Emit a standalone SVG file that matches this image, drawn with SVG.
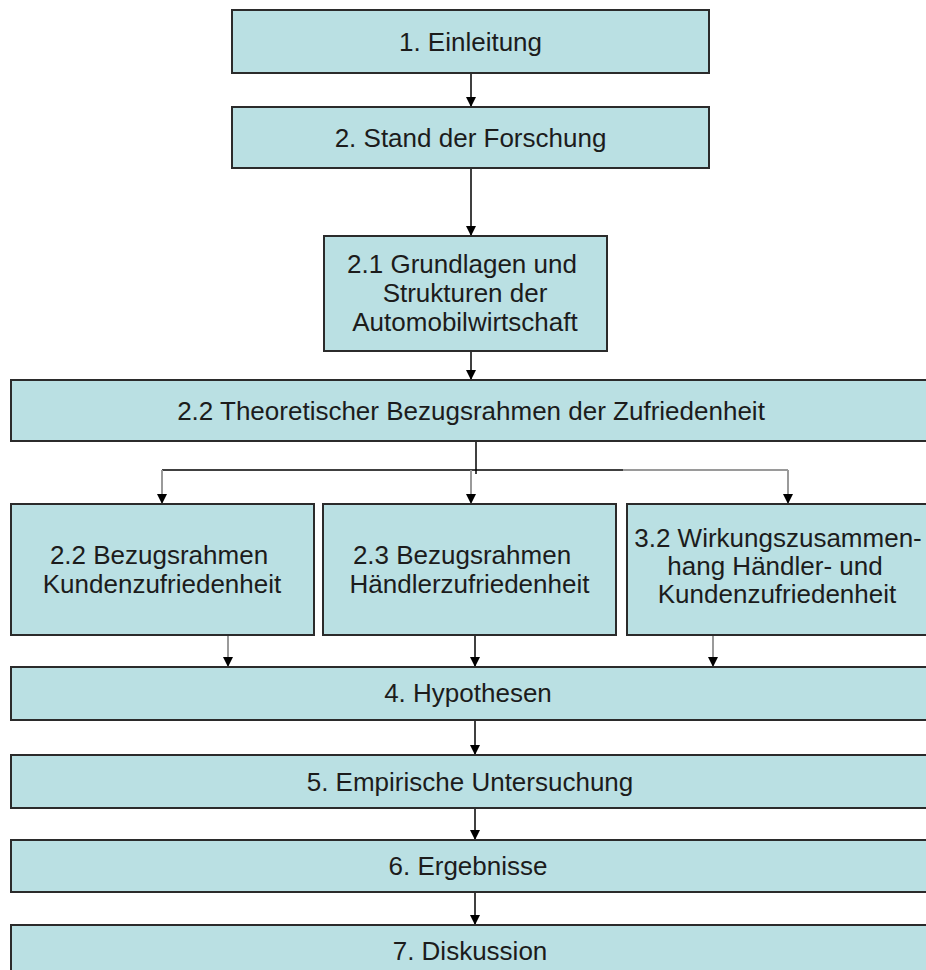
<svg xmlns="http://www.w3.org/2000/svg" width="926" height="970" viewBox="0 0 926 970">
<style>
.box{fill:#bae0e3;stroke:#2b2b2b;stroke-width:2}
.t{font-family:"Liberation Sans",Arial,sans-serif;font-size:26px;fill:#1c1c1c;text-anchor:middle}
.c{fill:none;stroke:#000;stroke-width:1.5}
.g{fill:none;stroke:#9a9a9a;stroke-width:2}
</style>
<defs>
<marker id="ah" markerUnits="userSpaceOnUse" markerWidth="12" markerHeight="12" viewBox="0 0 12 12" refX="6" refY="11" orient="auto-start-reverse">
<path d="M1,1 L11,1 L6,11 Z" fill="#000" transform="rotate(0)"/>
</marker>
<marker id="dn" markerUnits="userSpaceOnUse" markerWidth="12" markerHeight="12" viewBox="0 0 12 12" refX="6" refY="11" orient="0">
<path d="M1,1 L11,1 L6,11 Z" fill="#000"/>
</marker>
</defs>
<rect width="926" height="970" fill="#fff"/>
<g id="connectors">
<line class="c" x1="471" y1="73" x2="471" y2="107" marker-end="url(#dn)"/>
<line class="c" x1="471" y1="168" x2="471" y2="236" marker-end="url(#dn)"/>
<line class="c" x1="471" y1="351" x2="471" y2="380" marker-end="url(#dn)"/>
<line class="c" x1="476" y1="441" x2="476" y2="474"/>
<line class="c" x1="162" y1="470" x2="623" y2="470"/>
<line class="g" x1="623" y1="470" x2="788" y2="470"/>
<line class="g" x1="162" y1="470" x2="162" y2="504" marker-end="url(#dn)"/>
<line class="g" x1="471" y1="470" x2="471" y2="504" marker-end="url(#dn)"/>
<line class="g" x1="788" y1="470" x2="788" y2="504" marker-end="url(#dn)"/>
<line class="g" x1="228" y1="632" x2="228" y2="667" marker-end="url(#dn)"/>
<line class="c" x1="475" y1="635" x2="475" y2="667" marker-end="url(#dn)"/>
<line class="g" x1="713" y1="632" x2="713" y2="667" marker-end="url(#dn)"/>
<line class="c" x1="475" y1="720" x2="475" y2="755" marker-end="url(#dn)"/>
<line class="c" x1="475" y1="808" x2="475" y2="840" marker-end="url(#dn)"/>
<line class="c" x1="475" y1="892" x2="475" y2="925" marker-end="url(#dn)"/>
</g>
<g id="n1"><rect class="box" x="232" y="10" width="477" height="63"/><text class="t" x="470.5" y="51">1. Einleitung</text></g>
<g id="n2"><rect class="box" x="232" y="107" width="477" height="61"/><text class="t" x="470.5" y="147">2. Stand der Forschung</text></g>
<g id="n21"><rect class="box" x="324" y="236" width="283" height="115"/>
<text class="t" x="462" y="273">2.1 Grundlagen und</text>
<text class="t" x="465" y="302">Strukturen der</text>
<text class="t" x="465" y="331">Automobilwirtschaft</text></g>
<g id="n22"><rect class="box" x="11" y="380" width="930" height="61"/><text class="t" x="471" y="420">2.2 Theoretischer Bezugsrahmen der Zufriedenheit</text></g>
<g id="nA"><rect class="box" x="11" y="504" width="303" height="131"/>
<text class="t" x="159" y="564">2.2 Bezugsrahmen</text>
<text class="t" x="162" y="593">Kundenzufriedenheit</text></g>
<g id="nB"><rect class="box" x="323" y="504" width="293" height="131"/>
<text class="t" x="462" y="564">2.3 Bezugsrahmen</text>
<text class="t" x="469.5" y="593">Händlerzufriedenheit</text></g>
<g id="nC"><rect class="box" x="627" y="504" width="310" height="131"/>
<text class="t" x="778" y="547">3.2 Wirkungszusammen-</text>
<text class="t" x="775" y="575">hang Händler- und</text>
<text class="t" x="777" y="603">Kundenzufriedenheit</text></g>
<g id="n4"><rect class="box" x="11" y="667" width="930" height="53"/><text class="t" x="468" y="702">4. Hypothesen</text></g>
<g id="n5"><rect class="box" x="11" y="755" width="930" height="53"/><text class="t" x="470" y="791">5. Empirische Untersuchung</text></g>
<g id="n6"><rect class="box" x="11" y="840" width="930" height="52"/><text class="t" x="468" y="875">6. Ergebnisse</text></g>
<g id="n7"><rect class="box" x="11" y="925" width="930" height="60"/><text class="t" x="470" y="960">7. Diskussion</text></g>
</svg>
